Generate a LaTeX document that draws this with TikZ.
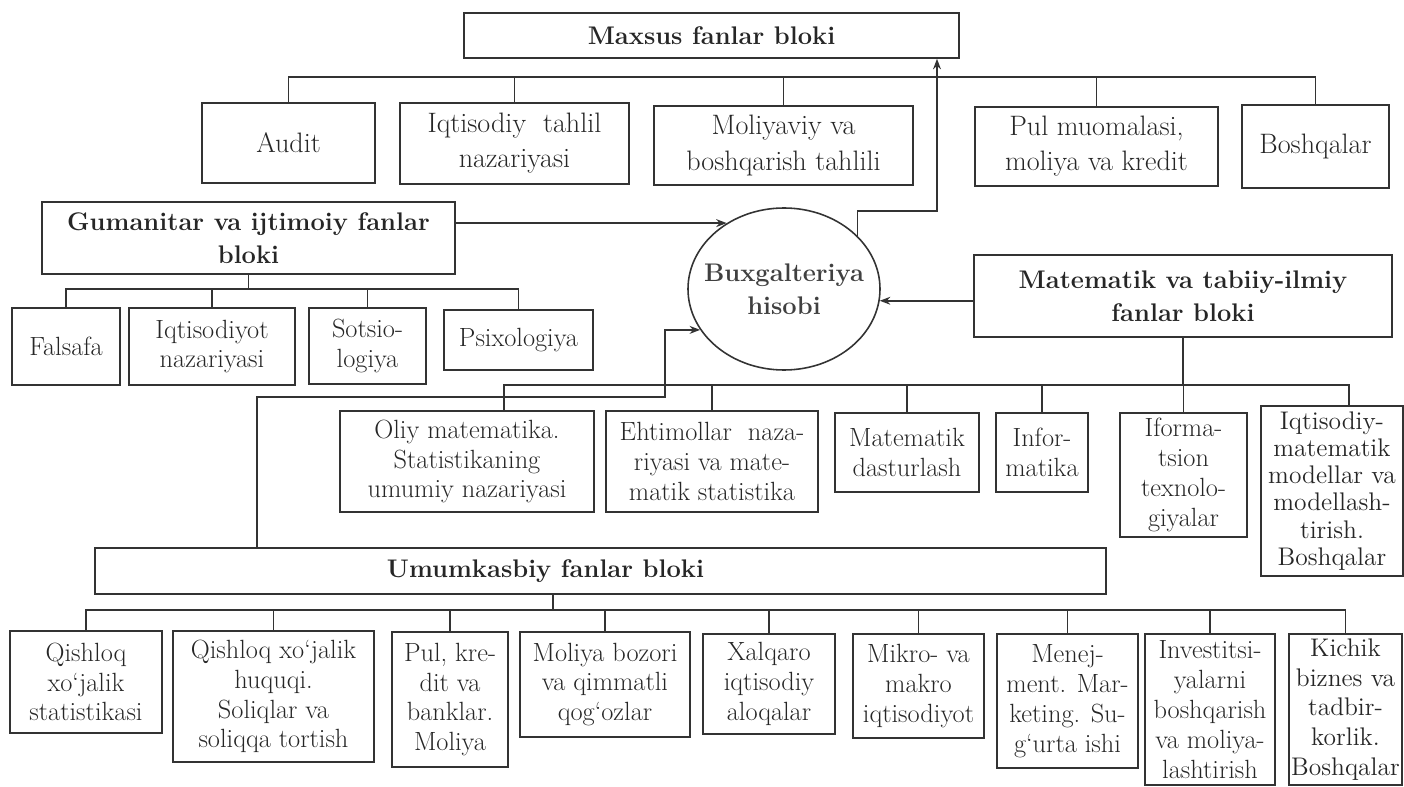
\documentclass[tikz,border=0pt]{standalone}
\usepackage{fontspec}
\usetikzlibrary{shapes.geometric,arrows.meta}
\begin{document}
\begin{tikzpicture}[
    x=0.02cm, y=-0.02cm,
    box/.style={draw=black!80, line width=0.9pt, align=center, inner sep=0.5pt,
      text=black!85, font=\fontsize{15}{17}\selectfont},
    wide/.style={font=\fontsize{16}{20}\selectfont},
    blok/.style={box, font=\fontsize{14.5}{18.5}\selectfont\bfseries},
    sz/.style 2 args={minimum width=#1*0.02cm, minimum height=#2*0.02cm},
    link/.style={draw=black!80, line width=0.9pt},
    arr/.style={link, -{Stealth[length=6pt, width=4.5pt]}}
  ]
  \path[use as bounding box] (0,0) rectangle (1404,787);
  % Markaz.
  \node[draw=black!80, line width=0.9pt, ellipse, inner sep=0pt, sz={192}{162},
    label={[blok, draw=none, text=black!75]center:Buxgalteriya\\hisobi}] (buxg) at (784,289) {};
  % Maxsus fanlar.
  \node[blok, sz={495}{45}] (maxsus) at (711.5,35.5) {Maxsus fanlar bloki};
  \node[box, wide, sz={173}{80}] (audit) at (288.5,143) {Audit};
  \node[box, wide, sz={229}{81}] (tahlil) at (514.5,143.5) {Iqtisodiy\ \ tahlil\\nazariyasi};
  \node[box, wide, sz={259}{79}] (moliyaviy) at (783.5,145.5) {Moliyaviy va\\boshqarish tahlili};
  \node[box, wide, sz={243}{79}] (pul) at (1096.5,146.5) {Pul muomalasi,\\moliya va kredit};
  \node[box, wide, sz={147}{83}] (boshq) at (1315.5,146.5) {Boshqalar};
  \coordinate (mbus) at (0,77);
  \draw[link] (audit.north) |- (mbus -| boshq.north) -- (boshq.north);
  \foreach \n in {tahlil,moliyaviy,pul}
    \draw[link] (\n.north) -- (\n.north |- mbus);
  \coordinate (m1) at (937,211);
  \draw[arr] (buxg.36) |- (m1) -- (m1 |- maxsus.south);
  % Gumanitar fanlar.
  \node[blok, sz={413}{72}] (gum) at (248.5,238) {Gumanitar va ijtimoiy fanlar\\bloki};
  \node[box, sz={108}{77}] (falsafa) at (66,346.5) {Falsafa};
  \node[box, sz={166}{77}] (iqnaz) at (212,346.5) {Iqtisodiyot\\nazariyasi};
  \node[box, sz={117}{76}] (sotsio) at (367.5,346) {Sotsio-\\logiya};
  \node[box, sz={149}{60}] (psix) at (518.5,340) {Psixologiya};
  \coordinate (gbus) at (0,289);
  \draw[link] (gum.south) -- (gum.south |- gbus);
  \draw[link] (falsafa.north) |- (gbus -| psix.north) -- (psix.north);
  \foreach \n in {iqnaz,sotsio}
    \draw[link] (\n.north) -- (\n.north |- gbus);
  \draw[arr] (gum.east |- buxg.131) -- (buxg.131);
  % Matematik fanlar.
  \node[blok, sz={418}{82}] (mat) at (1183,296) {Matematik va tabiiy-ilmiy\\fanlar bloki};
  \draw[arr] (mat.west |- buxg.-7) -- (buxg.-7);
  \node[box, sz={254}{101}] (oliy) at (467,461.5) {Oliy matematika.\\Statistikaning\\umumiy nazariyasi};
  \node[box, sz={212}{101}] (ehtim) at (712,461.5) {Ehtimollar\ \ naza-\\riyasi va mate-\\matik statistika};
  \node[box, sz={144}{79}] (dastur) at (907,452.5) {Matematik\\dasturlash};
  \node[box, sz={92}{79}] (inform) at (1042,452.5) {Infor-\\matika};
  \node[box, sz={127}{124}] (texno) at (1183.5,475) {Iforma-\\tsion\\texnolo-\\giyalar};
  \node[box, sz={142}{170}, font=\fontsize{14.5}{15.5}\selectfont] (model) at (1332,491)
    {Iqtisodiy-\\matematik\\modellar va\\modellash-\\tirish.\\Boshqalar};
  \coordinate (tbus) at (0,385);
  \coordinate (od) at ([xshift=0.74cm]oliy.north);
  \coordinate (md) at ([xshift=0.34cm]model.north);
  \draw[link] (mat.south) -- (mat.south |- tbus);
  \draw[link] (od) |- (tbus -| md) -- (md);
  \foreach \n in {ehtim,dastur,inform,texno}
    \draw[link] (\n.north) -- (\n.north |- tbus);
  % Umumkasbiy fanlar.
  \node[blok, sz={1011}{46}] (umum) at (600.5,571) {Umumkasbiy fanlar bloki\hspace*{2.2cm}};
  \coordinate (u1) at (257,397);
  \coordinate (u2) at (665,397);
  \draw[arr] (umum.north -| u1) -- (u1) -- (u2) |- (buxg.206);
  \node[box, sz={152}{102}] (qstat) at (86,682) {Qishloq\\xo‘jalik\\statistikasi};
  \node[box, sz={201}{131}] (qhuq) at (273.5,696.5) {Qishloq xo‘jalik\\huquqi.\\Soliqlar va\\soliqqa tortish};
  \node[box, sz={116}{135}] (pulkr) at (450,699.5) {Pul, kre-\\dit va\\banklar.\\Moliya};
  \node[box, sz={170}{105}] (bozor) at (605,684.5) {Moliya bozori\\va qimmatli\\qog‘ozlar};
  \node[box, sz={132}{100}] (xalq) at (769,684) {Xalqaro\\iqtisodiy\\aloqalar};
  \node[box, sz={131}{104}] (mikro) at (918.5,686) {Mikro- va\\makro\\iqtisodiyot};
  \node[box, sz={141}{134}] (menej) at (1067.5,701) {Menej-\\ment. Mar-\\keting. Su-\\g‘urta ishi};
  \node[box, sz={130}{151}] (invest) at (1210,709.5) {Investitsi-\\yalarni\\boshqarish\\va moliya-\\lashtirish};
  \node[box, sz={113}{151}, font=\fontsize{14.5}{17}\selectfont] (kichik) at (1345.5,709.5)
    {Kichik\\biznes va\\tadbir-\\korlik.\\Boshqalar};
  \coordinate (ubus) at (0,610);
  \coordinate (ud) at (553,610);
  \draw[link] (ud) -- (ud |- umum.south);
  \draw[link] (qstat.north) |- (ubus -| kichik.north) -- (kichik.north);
  \foreach \n in {qhuq,pulkr,bozor,xalq,mikro,menej,invest}
    \draw[link] (\n.north) -- (\n.north |- ubus);
\end{tikzpicture}
\end{document}
